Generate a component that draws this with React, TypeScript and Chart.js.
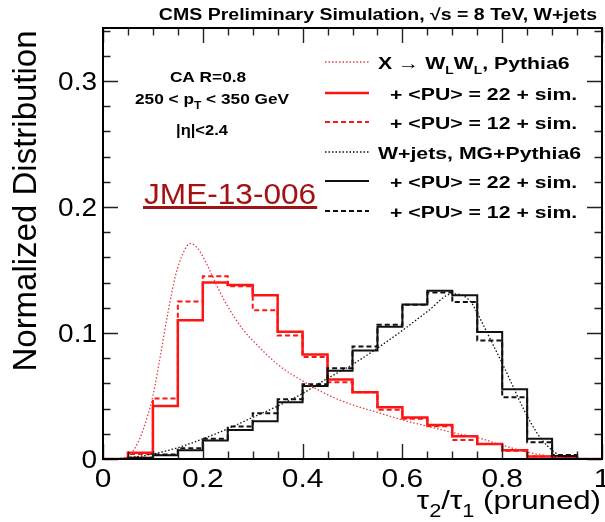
import React, { useEffect, useRef } from 'react';
import { Chart, registerables } from 'chart.js';

Chart.register(...registerables);

// ---------- data ----------
const binEdges = [0, 0.05, 0.1, 0.15, 0.2, 0.25, 0.3, 0.35, 0.4, 0.45, 0.5, 0.55, 0.6, 0.65, 0.7, 0.75, 0.8, 0.85, 0.9, 0.95, 1.0];

const sigPU22 = [0, 0.005, 0.042, 0.110, 0.140, 0.138, 0.130, 0.101, 0.083, 0.063, 0.053, 0.041, 0.033, 0.027, 0.018, 0.012, 0.007, 0.002, 0.001, 0];
const sigPU12 = [0, 0.004, 0.048, 0.125, 0.145, 0.137, 0.118, 0.098, 0.081, 0.061, 0.053, 0.039, 0.032, 0.026, 0.015, 0.012, 0.0065, 0.002, 0.001, 0];
const bkgPU22 = [0, 0.001, 0.003, 0.007, 0.0146, 0.023, 0.030, 0.045, 0.058, 0.070, 0.086, 0.105, 0.1225, 0.1335, 0.130, 0.1007, 0.0553, 0.016, 0.0024, 0];
const bkgPU12 = [0, 0.001, 0.0035, 0.0085, 0.016, 0.0257, 0.0363, 0.0475, 0.0594, 0.0721, 0.0893, 0.1065, 0.1224, 0.1322, 0.1246, 0.0941, 0.049, 0.0133, 0.0032, 0];

const sigGenX = [0.03, 0.05, 0.07, 0.09, 0.10, 0.115, 0.13, 0.145, 0.16, 0.175, 0.19, 0.21, 0.23, 0.25, 0.28, 0.31, 0.35, 0.40, 0.45, 0.50, 0.55, 0.60, 0.65, 0.70, 0.75, 0.80, 0.85, 0.90, 0.95];
const sigGenY = [0, 0.002, 0.013, 0.035, 0.050, 0.082, 0.116, 0.145, 0.163, 0.171, 0.167, 0.153, 0.136, 0.121, 0.103, 0.090, 0.075, 0.062, 0.051, 0.043, 0.037, 0.031, 0.026, 0.021, 0.017, 0.011, 0.0055, 0.002, 0];

const bkgGenX = [0.02, 0.05, 0.1, 0.15, 0.2, 0.25, 0.3, 0.35, 0.4, 0.45, 0.5, 0.55, 0.6, 0.65, 0.7, 0.72, 0.74, 0.76, 0.78, 0.8, 0.82, 0.84, 0.86, 0.88, 0.9, 0.92, 0.94];
const bkgGenY = [0, 0.001, 0.004, 0.009, 0.016, 0.024, 0.033, 0.042, 0.052, 0.064, 0.075, 0.088, 0.102, 0.117, 0.131, 0.130, 0.123, 0.108, 0.092, 0.076, 0.059, 0.042, 0.027, 0.015, 0.007, 0.002, 0];

const xTickValues = [0, 0.2, 0.4, 0.6, 0.8, 1.0];
const xTickLabels = ['0', '0.2', '0.4', '0.6', '0.8', '1'];
const yTickValues = [0, 0.1, 0.2, 0.3];
const yTickLabels = ['0', '0.1', '0.2', '0.3'];

const FONT = '"Liberation Sans", Arial, Helvetica, sans-serif';
const RED = '#ff1414';
const RED_DOT = '#eb3c46';
const BLACK = '#111111';

type Run = { t: string; sub?: boolean };

function histPoints(vals: number[]) {
  const pts = vals.map((v, i) => ({ x: binEdges[i], y: v }));
  pts.push({ x: binEdges[binEdges.length - 1], y: vals[vals.length - 1] });
  return pts;
}
function curvePoints(xs: number[], ys: number[]) {
  return xs.map((x, i) => ({ x, y: ys[i] }));
}

function drawRuns(
  ctx: CanvasRenderingContext2D,
  runs: Run[],
  x: number,
  y: number,
  size: number,
  opts: { bold?: boolean; sx?: number; align?: 'left' | 'right' | 'center'; color?: string; subScale?: number; subDrop?: number }
) {
  const sx = opts.sx ?? 1;
  const weight = opts.bold ? 'bold ' : '';
  const subScale = opts.subScale ?? 0.7;
  const subDrop = opts.subDrop ?? 0.3;
  ctx.save();
  const widths = runs.map((r) => {
    ctx.font = `${weight}${r.sub ? size * subScale : size}px ${FONT}`;
    return ctx.measureText(r.t).width;
  });
  const total = widths.reduce((a, b) => a + b, 0) * sx;
  const align = opts.align ?? 'left';
  const x0 = align === 'left' ? x : align === 'right' ? x - total : x - total / 2;
  ctx.translate(x0, y);
  ctx.scale(sx, 1);
  ctx.fillStyle = opts.color ?? '#000';
  ctx.textBaseline = 'alphabetic';
  ctx.textAlign = 'left';
  let cx = 0;
  runs.forEach((r, i) => {
    ctx.font = `${weight}${r.sub ? size * subScale : size}px ${FONT}`;
    ctx.fillText(r.t, cx, r.sub ? size * subDrop : 0);
    cx += widths[i];
  });
  ctx.restore();
  return total;
}

const decorPlugin = {
  id: 'decor',
  afterDraw(chart: any) {
    const ctx: CanvasRenderingContext2D = chart.ctx;
    const xs = chart.scales.x;
    const ys = chart.scales.y;
    const { left, right, top, bottom } = chart.chartArea;

    // ticks
    ctx.save();
    ctx.strokeStyle = '#222';
    ctx.lineWidth = 1.4;
    ctx.beginPath();
    for (let i = 0; i <= 17; i++) {
      const v = i * 0.02;
      const py = Math.round(ys.getPixelForValue(v)) + 0.5;
      const major = Math.abs(v * 10 - Math.round(v * 10)) < 1e-6;
      const len = major ? 15 : 7.5;
      ctx.moveTo(left, py);
      ctx.lineTo(left + len, py);
      ctx.moveTo(right, py);
      ctx.lineTo(right - len, py);
    }
    for (let i = 0; i <= 20; i++) {
      const v = i * 0.05;
      const px = Math.round(xs.getPixelForValue(v)) + 0.5;
      const major = i % 4 === 0;
      const len = major ? 15 : 7.5;
      ctx.moveTo(px, bottom);
      ctx.lineTo(px, bottom - len);
      ctx.moveTo(px, top);
      ctx.lineTo(px, top + len);
    }
    ctx.stroke();
    // frame
    ctx.strokeStyle = '#000';
    ctx.lineWidth = 2;
    ctx.strokeRect(left, top, right - left, bottom - top);
    ctx.restore();

    // tick labels
    yTickValues.forEach((v, i) => {
      const py = ys.getPixelForValue(v);
      drawRuns(ctx, [{ t: yTickLabels[i] }], 97, py + 9, 25, { sx: 1.12, align: 'right' });
    });
    xTickValues.forEach((v, i) => {
      const px = xs.getPixelForValue(v);
      drawRuns(ctx, [{ t: xTickLabels[i] }], px, 487, 26, { sx: 1.15, align: 'center' });
    });

    // axis titles
    drawRuns(ctx, [{ t: 'τ' }, { t: '2', sub: true }, { t: '/τ' }, { t: '1', sub: true }, { t: ' (pruned)' }], 601, 509, 26, {
      sx: 1.2,
      align: 'right',
      subScale: 0.7,
      subDrop: 0.3,
    });
    ctx.save();
    ctx.translate(36, 201);
    ctx.rotate(-Math.PI / 2);
    drawRuns(ctx, [{ t: 'Normalized Distribution' }], 0, 0, 33, { align: 'center' });
    ctx.restore();

    // header
    drawRuns(ctx, [{ t: 'CMS Preliminary Simulation, √s = 8 TeV, W+jets' }], 597, 20, 16, { bold: true, sx: 1.22, align: 'right' });

    // selection text
    drawRuns(ctx, [{ t: 'CA R=0.8' }], 208, 81.5, 15, { bold: true, sx: 1.15, align: 'center' });
    drawRuns(ctx, [{ t: '250 < p' }, { t: 'T', sub: true }, { t: ' < 350 GeV' }], 212, 104, 15, { bold: true, sx: 1.15, align: 'center' });
    drawRuns(ctx, [{ t: '|η|<2.4' }], 202, 135, 15, { bold: true, sx: 1.1, align: 'center' });

    // JME label
    const w = drawRuns(ctx, [{ t: 'JME-13-006' }], 144, 203.5, 29, { sx: 1.09, color: '#a31212' });
    ctx.save();
    ctx.fillStyle = '#a31212';
    ctx.fillRect(143, 206, w + 2, 3);
    ctx.restore();

    // legend
    const rows: { y: number; color: string; dash: number[]; width: number; runs: Run[]; tx: number }[] = [
      { y: 62, color: RED_DOT, dash: [1.5, 2], width: 1.3, runs: [{ t: 'X → W' }, { t: 'L', sub: true }, { t: 'W' }, { t: 'L', sub: true }, { t: ', Pythia6' }], tx: 378 },
      { y: 93, color: RED, dash: [], width: 2.5, runs: [{ t: '+ <PU> = 22 + sim.' }], tx: 390 },
      { y: 122, color: RED, dash: [5, 3], width: 2, runs: [{ t: '+ <PU> = 12 + sim.' }], tx: 390 },
      { y: 152, color: BLACK, dash: [1.5, 2], width: 1.3, runs: [{ t: 'W+jets, MG+Pythia6' }], tx: 378 },
      { y: 181, color: BLACK, dash: [], width: 2, runs: [{ t: '+ <PU> = 22 + sim.' }], tx: 390 },
      { y: 211, color: BLACK, dash: [5, 3], width: 2, runs: [{ t: '+ <PU> = 12 + sim.' }], tx: 390 },
    ];
    rows.forEach((r) => {
      ctx.save();
      ctx.strokeStyle = r.color;
      ctx.lineWidth = r.width;
      ctx.setLineDash(r.dash);
      ctx.beginPath();
      ctx.moveTo(325, r.y);
      ctx.lineTo(369, r.y);
      ctx.stroke();
      ctx.restore();
      drawRuns(ctx, r.runs, r.tx, r.y + 6.5, 17, { bold: true, sx: 1.25, subScale: 0.65, subDrop: 0.32 });
    });
  },
};

export default function App() {
  const ref = useRef<HTMLCanvasElement | null>(null);
  useEffect(() => {
    if (!ref.current) return;
    const chart = new Chart(ref.current, {
      type: 'line',
      data: {
        datasets: [
          {
            label: 'X → WLWL, Pythia6',
            data: curvePoints(sigGenX, sigGenY),
            borderColor: RED_DOT,
            borderWidth: 1.3,
            borderDash: [1.5, 2],
            pointRadius: 0,
            cubicInterpolationMode: 'monotone',
            fill: false,
          },
          {
            label: 'W+jets, MG+Pythia6',
            data: curvePoints(bkgGenX, bkgGenY),
            borderColor: BLACK,
            borderWidth: 1.3,
            borderDash: [1.5, 2],
            pointRadius: 0,
            cubicInterpolationMode: 'monotone',
            fill: false,
          },
          {
            label: 'bkg PU12',
            data: histPoints(bkgPU12),
            borderColor: BLACK,
            borderWidth: 2,
            borderDash: [5, 3],
            pointRadius: 0,
            stepped: 'before',
            fill: false,
          },
          {
            label: 'bkg PU22',
            data: histPoints(bkgPU22),
            borderColor: BLACK,
            borderWidth: 2,
            pointRadius: 0,
            stepped: 'before',
            fill: false,
          },
          {
            label: 'sig PU12',
            data: histPoints(sigPU12),
            borderColor: RED,
            borderWidth: 2,
            borderDash: [5, 3],
            pointRadius: 0,
            stepped: 'before',
            fill: false,
          },
          {
            label: 'sig PU22',
            data: histPoints(sigPU22),
            borderColor: RED,
            borderWidth: 2.5,
            pointRadius: 0,
            stepped: 'before',
            fill: false,
          },
        ],
      },
      options: {
        responsive: false,
        animation: false,
        devicePixelRatio: 1,
        layout: { padding: { left: 103, right: 3, top: 28, bottom: 63 } },
        plugins: { legend: { display: false }, tooltip: { enabled: false } },
        scales: {
          x: { type: 'linear', min: 0, max: 1, display: false },
          y: { type: 'linear', min: 0, max: 0.342, display: false },
        },
      },
      plugins: [decorPlugin],
    } as any);
    return () => chart.destroy();
  }, []);
  return (
    <div style={{ position: 'absolute', left: 0, top: 0, width: 605, height: 522, background: '#fff' }}>
      <canvas ref={ref} width={605} height={522} style={{ display: 'block', width: 605, height: 522 }} />
    </div>
  );
}
